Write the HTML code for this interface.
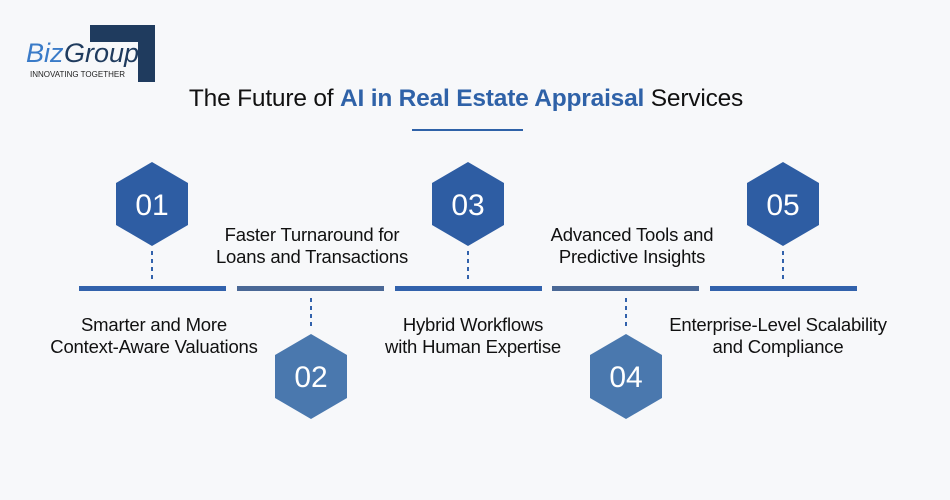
<!DOCTYPE html>
<html><head><meta charset="utf-8"><style>
html,body{margin:0;padding:0;background:#f7f8fa;}
svg{display:block;}
text{font-family:"Liberation Sans",sans-serif;}
.lbl{font-size:18.5px;fill:#111;text-anchor:middle;letter-spacing:-0.2px;}
.num{font-size:30px;fill:#fff;text-anchor:middle;}
</style></head><body>
<svg width="950" height="500" viewBox="0 0 950 500" xmlns="http://www.w3.org/2000/svg">
<rect width="950" height="500" fill="#f7f8fa"/>
<!-- logo -->
<path d="M90 25 H155 V82 H138 V42 H90 Z" fill="#1f3b5e"/>
<text x="26" y="62" font-family="Liberation Serif" font-style="italic" font-size="27" fill="#3a7bc8">Biz</text>
<text x="64" y="62" font-family="Liberation Serif" font-style="italic" font-size="27" fill="#1f3b5e">Group</text>
<rect x="28" y="67" width="98" height="12" fill="#f7f8fa"/>
<text x="30" y="77" font-size="8" fill="#222">INNOVATING TOGETHER</text>
<!-- title -->
<text x="466" y="106" text-anchor="middle" font-size="24.5" fill="#111" letter-spacing="-0.2">The Future of <tspan fill="#2f62a8" font-weight="bold">AI in Real Estate Appraisal</tspan> Services</text>
<rect x="412" y="129" width="111" height="2" fill="#2f62a8"/>
<!-- bars -->
<rect x="79" y="286" width="147" height="5" fill="#3262ac"/>
<rect x="237" y="286" width="147" height="5" fill="#4a6896"/>
<rect x="395" y="286" width="147" height="5" fill="#3262ac"/>
<rect x="552" y="286" width="147" height="5" fill="#4a6896"/>
<rect x="710" y="286" width="147" height="5" fill="#3262ac"/>
<!-- dashed connectors -->
<g stroke="#3262ac" stroke-width="2" stroke-dasharray="4,4">
<line x1="152" y1="251" x2="152" y2="280"/>
<line x1="468" y1="251" x2="468" y2="280"/>
<line x1="783" y1="251" x2="783" y2="280"/>
<line x1="311" y1="298" x2="311" y2="328"/>
<line x1="626" y1="298" x2="626" y2="328"/>
</g>
<!-- hexagons top -->
<g fill="#2e5da3">
<polygon points="152,162 188,183 188,225 152,246 116,225 116,183"/>
<polygon points="468,162 504,183 504,225 468,246 432,225 432,183"/>
<polygon points="783,162 819,183 819,225 783,246 747,225 747,183"/>
</g>
<g fill="#4a78ae">
<polygon points="311,334 347,355 347,398 311,419 275,398 275,355"/>
<polygon points="626,334 662,355 662,398 626,419 590,398 590,355"/>
</g>
<text class="num" x="152" y="215">01</text>
<text class="num" x="468" y="215">03</text>
<text class="num" x="783" y="215">05</text>
<text class="num" x="311" y="387">02</text>
<text class="num" x="626" y="387">04</text>
<!-- labels -->
<text class="lbl" x="312" y="241">Faster Turnaround for</text>
<text class="lbl" x="312" y="263">Loans and Transactions</text>
<text class="lbl" x="632" y="241">Advanced Tools and</text>
<text class="lbl" x="632" y="263">Predictive Insights</text>
<text class="lbl" x="154" y="331">Smarter and More</text>
<text class="lbl" x="154" y="353">Context-Aware Valuations</text>
<text class="lbl" x="473" y="331">Hybrid Workflows</text>
<text class="lbl" x="473" y="353">with Human Expertise</text>
<text class="lbl" x="778" y="331">Enterprise-Level Scalability</text>
<text class="lbl" x="778" y="353">and Compliance</text>
</svg>
</body></html>
